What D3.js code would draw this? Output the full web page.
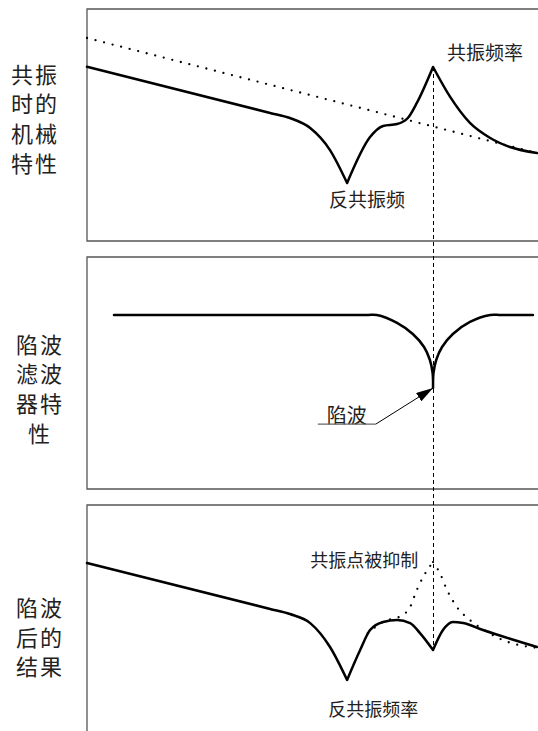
<!DOCTYPE html>
<html>
<head>
<meta charset="utf-8">
<script src="https://d3js.org/d3.v7.min.js"></script>
<style>
body { margin: 0; background: #fff; }
text { font-family: "Noto Sans CJK SC", sans-serif; fill: #222; }
</style>
</head>
<body>
<svg id="chart" width="538" height="731"></svg>
<script>
// Frequency axis is 0..100, gain axis is 0..100 per panel (arbitrary units)

// Mechanical response with resonance
var mechFreq = [0, 40.7, 45.1, 49.6, 54, 57.8, 62.9, 65.8, 68.9, 71.3, 73.3, 76.9, 80.7, 85.1, 89.6, 94, 100];
var mechGain = [75.1, 55.2, 53, 48.7, 39.2, 25, 44.8, 49.6, 50.4, 53, 59.5, 75, 62.1, 50.9, 44.4, 40.5, 37.9];

// Rigid (no resonance) line
var rigidFreq = [0, 100];
var rigidGain = [87.5, 37.9];

// Notch filter
var notchFreq = [6, 62, 64.4, 68.9, 72.4, 74.9, 76.2, 76.8, 76.9, 77.0, 77.6, 78.9, 81.3, 85.1, 89.6, 92, 99.1];
var notchGain = [75, 75, 75, 71.6, 66.8, 61.2, 55.6, 50, 43.5, 50, 55.6, 61.2, 66.8, 72, 75, 75, 75];

// Result after notch
var resultFreq = [0, 40.7, 45.1, 49.6, 54, 57.8, 60.7, 62.9, 65.8, 68.9, 71.8, 74, 76.9, 79.1, 81.3, 83.6, 88, 100];
var resultGain = [75, 55.2, 53, 49.1, 38.8, 24.6, 37.5, 46.1, 49.6, 50.4, 49.1, 44.8, 37.5, 46.1, 49.6, 49.1, 46.1, 38.8];

// Suppressed peak (dotted, panel 3)
var supFreq = [62.4, 65.8, 70.2, 71.8, 73.3, 74.7, 76.9, 78.4, 80, 82.2, 85.1, 88.9, 92.4, 100];
var supGain = [44.8, 49.6, 52.6, 56, 63.4, 69, 75.4, 70.7, 63.4, 56, 50.4, 45.3, 41.8, 38.4];

var antiResFreq = 57.8;
var resFreq = 76.9;

var titles = [["共振", "时的", "机械", "特性"], ["陷波", "滤波", "器特", "性"], ["陷波", "后的", "结果"]];

var svg = d3.select("#chart");
var left = 87, right = 540, ph = 232;
var tops = [9, 257, 505];

var x = d3.scaleLinear().domain([0, 100]).range([left, 537]);
var ys = tops.map(function (t) { return d3.scaleLinear().domain([0, 100]).range([t + ph, t]); });

// Split series at cusps so the tips stay sharp
function pieces(xs, vals, cusps) {
  var out = [[]];
  xs.forEach(function (f, i) {
    out[out.length - 1].push([f, vals[i]]);
    if (cusps.indexOf(f) >= 0) out.push([[f, vals[i]]]);
  });
  return out.filter(function (s) { return s.length > 1; });
}

function drawSeries(panel, xs, vals, cusps, dotted, curve) {
  var line = d3.line()
      .x(function (d) { return x(d[0]); })
      .y(function (d) { return ys[panel](d[1]); })
      .curve(curve || d3.curveMonotoneX);
  var p = svg.append("path")
      .attr("d", pieces(xs, vals, cusps).map(line).join(""))
      .style("fill", "none")
      .style("stroke", "#000")
      .style("stroke-linejoin", "round")
      .style("stroke-linecap", "round");
  if (dotted) {
    p.style("stroke-width", 2.3).style("stroke-dasharray", "0,8.8");
  } else {
    p.style("stroke-width", 2.5);
  }
}

// Panel frames (open on the right)
tops.forEach(function (t, i) {
  svg.append("path")
    .attr("d", "M" + right + "," + t + "H" + left + "V" + (t + ph) + "H" + right)
    .style("fill", "none")
    .style("stroke", "#555")
    .style("stroke-width", 1.3);
});

// Left titles
var titleX = [35, 40, 40];
var titleY = [72.5, 342.5, 606];
titles.forEach(function (rows, i) {
  rows.forEach(function (r, j) {
    svg.append("text")
      .attr("x", titleX[i])
      .attr("y", titleY[i] + j * 29.7)
      .attr("text-anchor", "middle")
      .attr("dominant-baseline", "central")
      .style("font-size", "22px")
      .style("letter-spacing", "2px")
      .text(r);
  });
});

// Vertical dashed marker at resonance
var markX = Math.round(x(resFreq)) + 0.5;
svg.append("line")
  .attr("x1", markX).attr("x2", markX)
  .attr("y1", ys[0](mechGain[mechFreq.indexOf(resFreq)]))
  .attr("y2", ys[2](resultGain[resultFreq.indexOf(resFreq)]))
  .style("stroke", "#000")
  .style("stroke-width", 1)
  .style("stroke-dasharray", "4,3");

// Panel 1
drawSeries(0, rigidFreq, rigidGain, [], true);
drawSeries(0, mechFreq, mechGain, [antiResFreq, resFreq], false);

// Panel 2
drawSeries(1, notchFreq, notchGain, [resFreq], false, d3.curveCatmullRom.alpha(0.5));

// Panel 3
drawSeries(2, supFreq, supGain, [resFreq], true);
drawSeries(2, resultFreq, resultGain, [antiResFreq, resFreq], false);

// Annotations
function note(panel, f, g, txt, size) {
  svg.append("text")
    .attr("x", x(f))
    .attr("y", ys[panel](g))
    .attr("dominant-baseline", "central")
    .style("font-size", size + "px")
    .text(txt);
}
note(0, 80, 81.5, "共振频率", 19);
note(0, 53.8, 18.5, "反共振频", 19);
note(2, 49.6, 76.7, "共振点被抑制", 18);
note(2, 53.6, 12.5, "反共振频率", 18);
note(1, 53.3, 32.3, "陷波", 20);

// Arrow pointing at the notch
var defs = svg.append("defs");
defs.append("marker")
  .attr("id", "arrow")
  .attr("viewBox", "0 0 10 10")
  .attr("refX", 10).attr("refY", 5)
  .attr("markerWidth", 17).attr("markerHeight", 10)
  .attr("markerUnits", "userSpaceOnUse")
  .attr("preserveAspectRatio", "none")
  .attr("orient", "auto")
  .append("path")
  .attr("d", "M0,0L10,5L0,10Z")
  .style("fill", "#000");

var tipY = ys[1](notchGain[notchFreq.indexOf(resFreq)]);
svg.append("line")
  .attr("x1", x(51.3)).attr("x2", x(64.2))
  .attr("y1", ys[1](28)).attr("y2", ys[1](28))
  .style("stroke", "#666").style("stroke-width", 1.2);
svg.append("line")
  .attr("x1", x(64.2)).attr("y1", ys[1](28))
  .attr("x2", x(resFreq)).attr("y2", tipY)
  .attr("marker-end", "url(#arrow)")
  .style("stroke", "#000").style("stroke-width", 1);
</script>
</body>
</html>
